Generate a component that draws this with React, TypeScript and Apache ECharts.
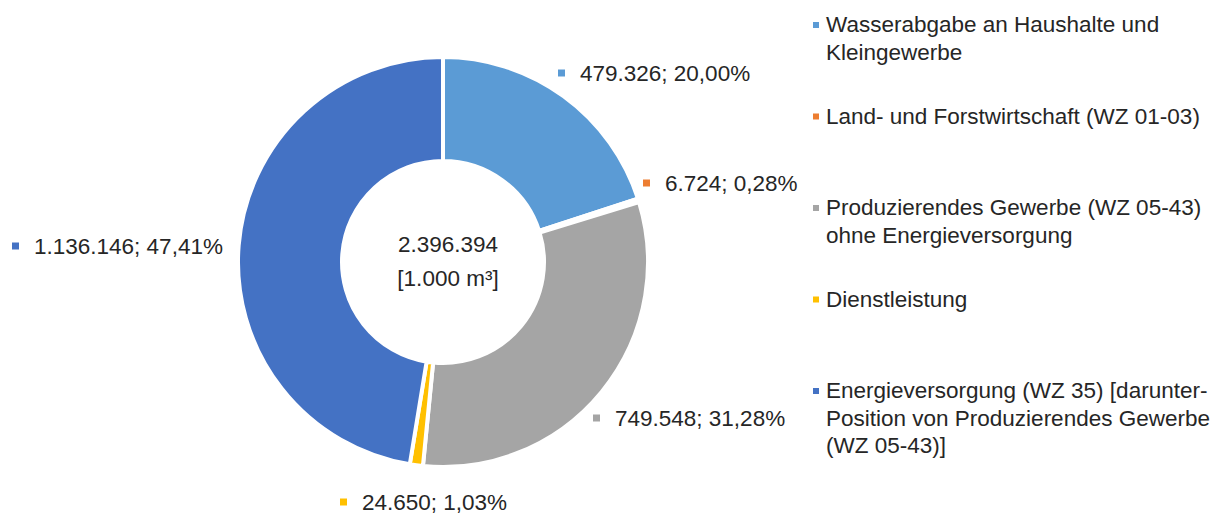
import React, { useEffect, useRef } from "react";
import * as echarts from "echarts";

const categories = [
  "Wasserabgabe an Haushalte und\nKleingewerbe",
  "Land- und Forstwirtschaft (WZ 01-03)",
  "Produzierendes Gewerbe (WZ 05-43)\nohne Energieversorgung",
  "Dienstleistung",
  "Energieversorgung (WZ 35) [darunter-\nPosition von Produzierendes Gewerbe\n(WZ 05-43)]",
];
const values = [479326, 6724, 749548, 24650, 1136146];
const colors = ["#5B9BD5", "#ED7D31", "#A5A5A5", "#FFC000", "#4472C4"];
const unitLabel = "[1.000 m³]";

// label anchor positions (left of marker, vertical middle)
const labelPos = [
  [558, 73],
  [643, 183],
  [593, 418],
  [340, 502],
  [12, 246],
];

const FONT = "'Liberation Sans', Arial, sans-serif";
const TEXT = "#262626";
const FS = 22.5;

function fmtInt(n: number): string {
  const s = String(Math.round(n));
  return s.replace(/\B(?=(\d{3})+(?!\d))/g, ".");
}
function fmtPct(p: number): string {
  return p.toFixed(2).replace(".", ",") + "%";
}

export default function App() {
  const ref = useRef<HTMLDivElement>(null);
  useEffect(() => {
    document.body.style.margin = "0";
    if (!ref.current) return;
    const chart = echarts.init(ref.current, null, { renderer: "svg" });
    const total = values.reduce((a, b) => a + b, 0);

    const rich: Record<string, any> = {
      t: { fontSize: FS, fontFamily: FONT, color: TEXT, padding: [0, 0, 0, 15] },
    };
    colors.forEach((c, i) => {
      rich["m" + i] = { width: 7, height: 7, backgroundColor: c };
    });

    const data = values.map((v, i) => ({
      name: categories[i],
      value: v,
      itemStyle: { color: colors[i] },
    }));

    const legendGraphics: any[] = [];
    categories.forEach((c, i) => {
      const y = 25 + i * 91.5;
      legendGraphics.push({
        type: "rect",
        shape: { x: 813, y: y - 3, width: 6, height: 6 },
        style: { fill: colors[i] },
      });
      legendGraphics.push({
        type: "text",
        x: 826,
        y: y - 14,
        style: {
          text: c,
          fontSize: FS,
          fontFamily: FONT,
          fill: TEXT,
          lineHeight: 27.5,
          verticalAlign: "top",
        },
      });
    });

    chart.setOption({
      animation: false,
      backgroundColor: "#ffffff",
      graphic: [
        ...legendGraphics,
        {
          type: "text",
          x: 448,
          y: 244,
          style: {
            text: fmtInt(total),
            fontSize: FS,
            fontFamily: FONT,
            fill: TEXT,
            align: "center",
            verticalAlign: "middle",
          },
        },
        {
          type: "text",
          x: 448,
          y: 278,
          style: {
            text: unitLabel,
            fontSize: FS,
            fontFamily: FONT,
            fill: TEXT,
            align: "center",
            verticalAlign: "middle",
          },
        },
      ],
      series: [
        {
          type: "pie",
          center: [443, 262],
          radius: [101, 205],
          startAngle: 90,
          clockwise: true,
          avoidLabelOverlap: false,
          itemStyle: { borderColor: "#ffffff", borderWidth: 4 },
          label: {
            show: true,
            position: "outside",
            formatter: (p: any) =>
              `{m${p.dataIndex}|}{t|${fmtInt(p.value)}; ${fmtPct((p.value / total) * 100)}}`,
            rich,
          },
          labelLine: { show: false },
          labelLayout: (p: any) => ({
            x: labelPos[p.dataIndex][0],
            y: labelPos[p.dataIndex][1],
            align: "left",
            verticalAlign: "middle",
            hideOverlap: false,
            moveOverlap: null,
          }),
          emphasis: { disabled: true },
          data,
        },
      ],
    });
    return () => chart.dispose();
  }, []);
  return <div ref={ref} style={{ width: 1218, height: 514 }} />;
}
